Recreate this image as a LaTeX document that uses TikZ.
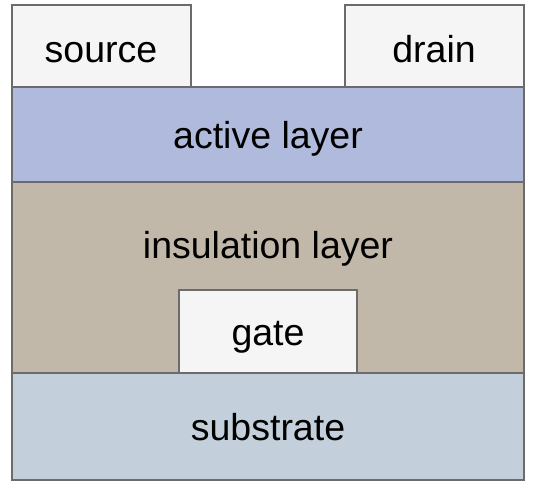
\documentclass[tikz,border=0pt]{standalone}
\usepackage{fontspec}
\setmainfont{Liberation Sans}
\definecolor{contactfill}{HTML}{F5F5F5}
\definecolor{activefill}{HTML}{B0BADC}
\definecolor{insulfill}{HTML}{C1B8A9}
\definecolor{substfill}{HTML}{C3D0DB}
\definecolor{edgegray}{HTML}{6B6B6B}
\tikzset{
    layer/.style={draw=edgegray, line width=2pt},
    label/.style={anchor=base, font=\fontsize{37.5}{45}\selectfont}
}
\begin{document}
\begin{tikzpicture}[x=1pt, y=-1pt]
        \useasboundingbox (0, 0) rectangle (535, 488);
        \draw [layer, fill=insulfill] (12, 182) rectangle (524, 373);
        \draw [layer, fill=contactfill] (179, 290) rectangle (357, 373);
        \draw [layer, fill=substfill] (12, 373) rectangle (524, 480);
        \draw [layer, fill=activefill] (12, 87) rectangle (524, 182);
        \draw [layer, fill=contactfill] (12, 5) rectangle (191, 87);
        \draw [layer, fill=contactfill] (345, 5) rectangle (524, 87);
        \node (source) at (101, 62) [label] {source};
        \node (drain) at (434, 62) [label] {drain};
        \node (active) at (268, 148) [label] {active layer};
        \node (insul) at (268, 258) [label] {insulation layer};
        \node (gate) at (268, 345) [label] {gate};
        \node (subst) at (268, 440) [label] {substrate};
    \end{tikzpicture}
\end{document}
